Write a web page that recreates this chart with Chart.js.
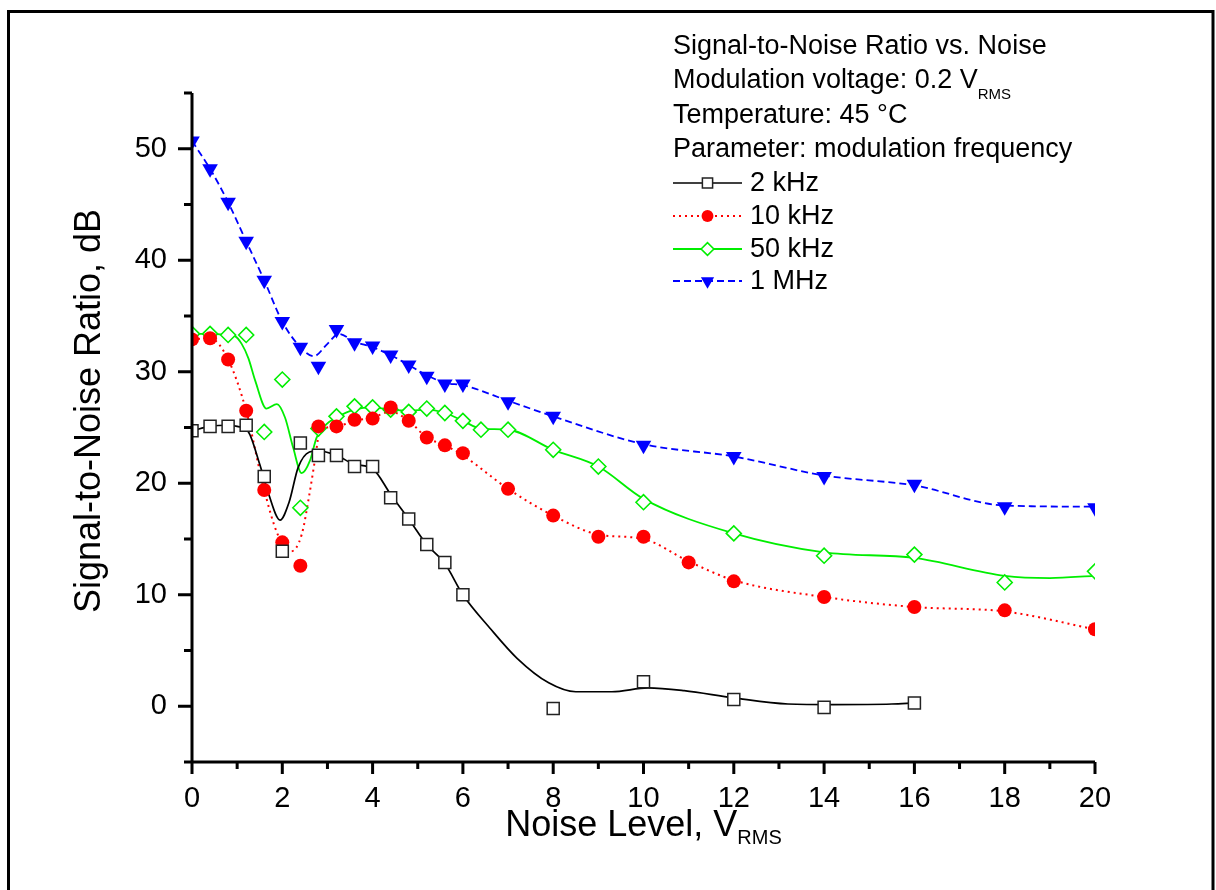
<!DOCTYPE html>
<html><head><meta charset="utf-8">
<script src="https://cdn.jsdelivr.net/npm/chart.js@4.4.1/dist/chart.umd.min.js"></script>
<style>html,body{margin:0;padding:0;background:#fff;}canvas{display:block;}</style>
</head><body>
<canvas id="c" width="1216" height="890"></canvas>
<script>
// ---------- data ----------
const x2k   = [0,0.4,0.8,1.2,1.6,2.0,2.4,2.8,3.2,3.6,4.0,4.4,4.8,5.2,5.6,6.0,8,10,12,14,16];
const snr2k = [24.7,25.1,25.1,25.2,20.6,13.9,23.6,22.5,22.5,21.5,21.5,18.7,16.8,14.5,12.9,10.0,-0.2,2.2,0.6,-0.1,0.3];

const x10k   = [0,0.4,0.8,1.2,1.6,2.0,2.4,2.8,3.2,3.6,4.0,4.4,4.8,5.2,5.6,6.0,7,8,9,10,11,12,14,16,18,20];
const snr10k = [32.9,33.0,31.1,26.5,19.4,14.7,12.6,25.1,25.1,25.7,25.8,26.8,25.6,24.1,23.4,22.7,19.5,17.1,15.2,15.2,12.9,11.2,9.8,8.9,8.6,6.9];

const x50k   = [0,0.4,0.8,1.2,1.6,2.0,2.4,2.8,3.2,3.6,4.0,4.4,4.8,5.2,5.6,6.0,6.4,7,8,9,10,12,14,16,18,20];
const snr50k = [33.4,33.4,33.3,33.3,24.6,29.3,17.8,24.9,26.0,26.9,26.8,26.6,26.4,26.7,26.3,25.6,24.8,24.8,23.0,21.5,18.3,15.5,13.5,13.6,11.1,12.1];

const x1M   = [0,0.4,0.8,1.2,1.6,2.0,2.4,2.8,3.2,3.6,4.0,4.4,4.8,5.2,5.6,6.0,7,8,10,12,14,16,18,20];
const snr1M = [50.7,48.2,45.2,41.7,38.2,34.5,32.2,30.5,33.8,32.6,32.3,31.5,30.6,29.6,28.9,28.9,27.3,26.0,23.4,22.4,20.6,19.9,17.9,17.8];

// smoothed fit curves as drawn in the reference
const fit2kX = [0,0.4,0.8,1.0,1.25,1.5,1.7,1.95,2.15,2.35,2.6,2.8,3.2,3.6,4.0,4.4,4.8,5.2,5.6,6.0,6.6,7.2,7.9,8.5,9.3,10.1,10.9,12,13.2,14.2,15.5,16];
const fit2kY = [24.7,25.1,25.2,25.1,24.6,21.7,19.0,16.7,18.3,21.4,22.8,22.9,22.5,21.7,21.3,19.0,16.8,14.5,12.8,10.0,7.0,4.3,2.1,1.3,1.3,1.65,1.4,0.75,0.2,0.15,0.2,0.3];

const fit10kX = [0,0.4,0.8,1.2,1.6,1.9,2.2,2.43,2.6,2.72,2.83,3.2,3.6,4.0,4.4,4.8,5.2,5.6,6.0,7,8,9,10,11,12,14,16,18,20];
const fit10kY = [32.9,33.0,31.1,26.5,19.4,15.4,13.9,15.4,19.0,22.0,24.6,25.1,25.6,25.9,26.4,25.6,24.1,23.4,22.5,19.5,17.1,15.4,15.0,13.0,11.3,9.8,8.9,8.5,6.9];

const fit50kX = [0,0.4,0.8,0.95,1.1,1.25,1.4,1.65,1.88,2.06,2.24,2.43,2.61,2.76,2.98,3.2,3.6,4.0,4.4,4.8,5.2,5.6,6.0,6.4,7,8,9,10,12,14,16,18,19,20];
const fit50kY = [33.4,33.4,33.3,33.2,32.5,31.2,29.2,26.7,27.1,25.9,23.2,20.9,22.0,24.1,25.3,25.9,26.6,26.8,26.6,26.5,26.6,26.3,25.6,24.9,24.8,23.0,21.5,18.6,15.5,13.8,13.3,11.7,11.5,11.7];

const fit1MX = [0,0.4,0.8,1.2,1.6,2.0,2.4,2.7,3.0,3.25,3.6,4.0,4.4,4.8,5.2,5.6,6.0,7,8,10,12,14,16,18,20];
const fit1MY = [50.7,48.2,45.2,41.7,38.2,34.5,32.2,31.4,32.5,33.4,32.7,32.2,31.5,30.6,29.7,29.0,28.8,27.4,26.0,23.5,22.4,20.7,19.8,18.0,17.9];

const seriesLabels = ['2 kHz','10 kHz','50 kHz','1 MHz'];
const xTicks = [0,2,4,6,8,10,12,14,16,18,20];
const xMinorTicks = [1,3,5,7,9,11,13,15,17,19];
const yTicks = [0,10,20,30,40,50];
const yMinorTicks = [-5,5,15,25,35,45,55];
const infoLines = ['Signal-to-Noise Ratio vs. Noise','Modulation voltage: 0.2 V','Temperature: 45 \u00B0C','Parameter: modulation frequency'];

// ---------- styling ----------
const FONT = "'Liberation Sans', Arial, Helvetica, sans-serif";
const pts = (xs, ys) => xs.map((x, i) => ({x: x, y: ys[i]}));

const styles = [
  {color:'#000000', dash:[], lw:1.7, marker:'rect', r:8.5, fill:'#ffffff', stroke:'#222222', mlw:1.5},
  {color:'#ff0000', dash:[2,4], lw:2, marker:'circle', r:7, fill:'#ff0000', stroke:'#ff0000', mlw:0},
  {color:'#00ee00', dash:[], lw:1.8, marker:'rectRot', r:7.5, fill:'#ffffff', stroke:'#00ee00', mlw:1.6},
  {color:'#0000ff', dash:[7,4], lw:1.8, marker:'triDown', r:9, fill:'#0000ff', stroke:'#0000ff', mlw:0}
];
const markerX = [x2k, x10k, x50k, x1M];
const markerY = [snr2k, snr10k, snr50k, snr1M];
const fitX = [fit2kX, fit10kX, fit50kX, fit1MX];
const fitY = [fit2kY, fit10kY, fit50kY, fit1MY];

const datasets = [];
seriesLabels.forEach((lab, i) => {
  const s = styles[i];
  datasets.push({
    label: lab + ' fit', data: pts(fitX[i], fitY[i]), showLine: true, pointRadius: 0,
    borderColor: s.color, borderWidth: s.lw, borderDash: s.dash, cubicInterpolationMode: 'monotone',
    fill: false, order: 2
  });
  datasets.push({
    label: lab, data: pts(markerX[i], markerY[i]), showLine: false,
    pointStyle: s.marker === 'triDown' ? 'triangle' : s.marker,
    rotation: s.marker === 'triDown' ? 180 : 0,
    pointRadius: s.r, pointHoverRadius: s.r,
    pointBackgroundColor: s.fill, pointBorderColor: s.stroke, pointBorderWidth: s.mlw,
    order: 1
  });
});

function drawMarker(c, s, x, y, k) {
  const r = s.r * k;
  c.beginPath();
  if (s.marker === 'rect') { const h = r * Math.SQRT1_2; c.rect(x - h, y - h, 2 * h, 2 * h); }
  else if (s.marker === 'circle') { c.arc(x, y, r, 0, Math.PI * 2); }
  else if (s.marker === 'rectRot') { c.moveTo(x - r, y); c.lineTo(x, y - r); c.lineTo(x + r, y); c.lineTo(x, y + r); c.closePath(); }
  else { c.moveTo(x, y + r); c.lineTo(x - r * 0.866, y - r / 2); c.lineTo(x + r * 0.866, y - r / 2); c.closePath(); }
  c.setLineDash([]);
  c.fillStyle = s.fill; c.fill();
  if (s.mlw > 0) { c.lineWidth = s.mlw; c.strokeStyle = s.stroke; c.stroke(); }
}

const decor = {
  id: 'decor',
  beforeDraw(chart) {
    const c = chart.ctx;
    c.save();
    c.fillStyle = '#fff'; c.fillRect(0, 0, chart.width, chart.height);
    c.strokeStyle = '#000'; c.lineWidth = 3;
    c.strokeRect(8.5, 11.5, 1204.5, 900);
    c.restore();
  },
  afterDraw(chart) {
    const c = chart.ctx, xs = chart.scales.x, ys = chart.scales.y;
    const a = chart.chartArea;
    const L = a.left, R = a.right, T = a.top, B = a.bottom;
    c.save();
    c.strokeStyle = '#000'; c.lineWidth = 3; c.lineCap = 'butt'; c.setLineDash([]);
    c.beginPath();
    c.moveTo(L, T); c.lineTo(L, B + 1.5);
    c.moveTo(L - 1.5, B); c.lineTo(R, B);
    yTicks.forEach(v => { const p = ys.getPixelForValue(v); c.moveTo(L - 14, p); c.lineTo(L, p); });
    yMinorTicks.forEach(v => { const p = ys.getPixelForValue(v); c.moveTo(L - 8, p); c.lineTo(L, p); });
    xTicks.forEach(v => { const p = xs.getPixelForValue(v); c.moveTo(p, B); c.lineTo(p, B + 12); });
    xMinorTicks.forEach(v => { const p = xs.getPixelForValue(v); c.moveTo(p, B); c.lineTo(p, B + 7); });
    c.stroke();

    // axis titles
    c.fillStyle = '#000'; c.textBaseline = 'alphabetic'; c.textAlign = 'left';
    const main = 'Noise Level, V', sub = 'RMS';
    c.font = '36px ' + FONT; const w1 = c.measureText(main).width;
    c.font = '20px ' + FONT; const w2 = c.measureText(sub).width;
    const x0 = (L + R) / 2 - (w1 + w2) / 2;
    c.font = '36px ' + FONT; c.fillText(main, x0, 836);
    c.font = '20px ' + FONT; c.fillText(sub, x0 + w1, 844);

    c.save();
    c.translate(100, 411); c.rotate(-Math.PI / 2);
    c.font = '36px ' + FONT; c.textAlign = 'center';
    c.fillText('Signal-to-Noise Ratio, dB', 0, 0);
    c.restore();

    // info block + legend
    const tx = 673;
    const base = [54, 88, 123, 157];
    c.textAlign = 'left';
    infoLines.forEach((t, i) => {
      c.font = '27px ' + FONT;
      c.fillText(t, tx, base[i]);
      if (i === 1) {
        const w = c.measureText(t).width;
        c.font = '15px ' + FONT;
        c.fillText('RMS', tx + w, base[i] + 11);
      }
    });
    const lbase = [191, 224, 257, 289];
    seriesLabels.forEach((lab, i) => {
      const s = styles[i];
      const ly = lbase[i] - 8;
      c.beginPath();
      c.setLineDash(s.dash); c.lineWidth = s.lw; c.strokeStyle = s.color;
      c.moveTo(673, ly); c.lineTo(742, ly); c.stroke();
      drawMarker(c, s, 707.5, ly, 0.85);
      c.fillStyle = '#000'; c.font = '27px ' + FONT; c.textAlign = 'left';
      c.fillText(lab, 750, lbase[i]);
    });
    c.restore();
  }
};

new Chart(document.getElementById('c'), {
  type: 'scatter',
  data: { datasets: datasets },
  options: {
    responsive: false, animation: false, devicePixelRatio: 1,
    layout: { padding: { top: 93, right: 121, left: 0, bottom: 0 } },
    plugins: { legend: { display: false }, tooltip: { enabled: false }, title: { display: false } },
    scales: {
      x: {
        type: 'linear', min: 0, max: 20,
        afterBuildTicks: s => { s.ticks = xTicks.map(v => ({value: v})); },
        afterFit: s => { s.height = 128; },
        grid: { display: false }, border: { display: false },
        ticks: { color: '#000', font: { family: FONT, size: 29 }, padding: 12, autoSkip: false, maxRotation: 0 }
      },
      y: {
        type: 'linear', min: -5, max: 55,
        afterBuildTicks: s => { s.ticks = yTicks.map(v => ({value: v})); },
        afterFit: s => { s.width = 192; },
        grid: { display: false }, border: { display: false },
        ticks: { color: '#000', font: { family: FONT, size: 29 }, padding: 17, autoSkip: false }
      }
    }
  },
  plugins: [decor]
});
</script>
</body></html>
